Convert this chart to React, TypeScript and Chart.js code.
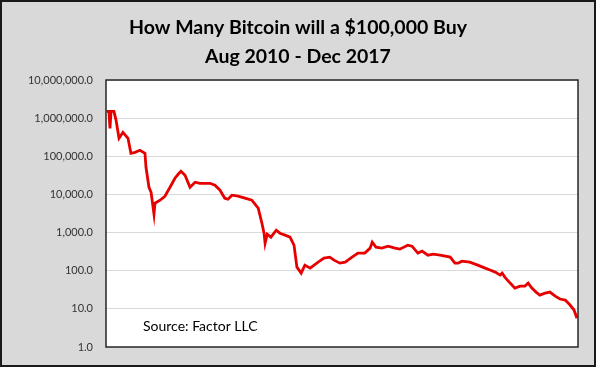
import React, { useEffect, useRef } from "react";
import { Chart, registerables } from "chart.js";
Chart.register(...registerables);

// months elapsed since Aug 2010
const monthsSinceAug2010 = [
  0.1, 0.55, 0.75, 0.95, 1.5, 1.9, 2.45, 3.2, 4.15, 4.7,
  5.47, 6.4, 7.35, 7.54, 8.1, 8.5, 9.05, 9.24, 10.2, 11.1,
  12.07, 13.0, 13.6, 14.14, 14.9, 15.84, 16.8, 17.7, 19.6, 20.55,
  21.5, 22.4, 23.0, 23.76, 24.9, 26.2, 27.5, 28.7, 29.4, 29.8,
  30.0, 30.4, 31.1, 32.1, 32.8, 33.75, 34.7, 35.45, 36.0, 36.8,
  37.5, 38.5, 40.0, 41.1, 42.2, 43.0, 44.1, 45.1, 46.4, 47.5,
  48.8, 49.8, 50.2, 50.9, 52.0, 53.2, 54.5, 55.4, 56.9, 57.7,
  58.8, 59.6, 60.7, 61.7, 63.0, 64.9, 65.8, 66.4, 67.1, 68.6,
  70.1, 71.5, 72.4, 73.4, 74.3, 74.7, 75.2, 76.2, 77.1, 78.1,
  79.0, 79.6, 80.3, 81.1, 81.8, 82.8, 83.7, 84.7, 85.6, 86.6,
  87.5, 88.25, 88.8,
];

// bitcoin that $100,000 buys
const bitcoinPer100k = [
  1507000, 1507000, 541000, 1507000, 1507000, 875000, 296000, 425000, 296000, 120000,
  127000, 144000, 120000, 51500, 15400, 11400, 3030, 5890, 7050, 8970,
  15400, 26600, 33800, 40500, 31800, 15400, 20900, 19600, 19600, 17400,
  12900, 7960, 7490, 9530, 8970, 7960, 7050, 4350, 1760, 964,
  528, 908, 758, 1156, 964, 855, 758, 468, 124, 86.5,
  140, 117, 168, 214, 227, 189, 158, 168, 227, 289,
  289, 391, 561, 415, 391, 441, 391, 368, 468, 441,
  289, 326, 256, 272, 256, 227, 158, 158, 178, 168,
  140, 117, 104, 91.9, 76.7, 86.5, 68.0, 47.4, 35.0, 39.5,
  39.5, 47.4, 35.0, 27.5, 23.0, 25.9, 27.5, 21.6, 18.1, 17.0,
  12.6, 9.3, 5.7,
];

const decadeTicks = [1, 10, 100, 1000, 10000, 100000, 1000000, 10000000];
const titleLines = ["How Many Bitcoin will a $100,000 Buy", "Aug 2010 - Dec 2017"];
const sourceNote = "Source: Factor LLC";

const framePlugin = {
  id: "frame",
  beforeDraw(chart: any) {
    const { ctx, width, height, chartArea } = chart;
    ctx.save();
    ctx.fillStyle = "#ffffff";
    ctx.fillRect(0, 0, width, height);
    ctx.fillStyle = "#d9d9d9";
    ctx.fillRect(1, 1, 594, 365);
    ctx.strokeStyle = "#1a1a1a";
    ctx.lineWidth = 2;
    ctx.strokeRect(1, 1, 594, 365);
    ctx.fillStyle = "#ffffff";
    ctx.fillRect(chartArea.left, chartArea.top, chartArea.right - chartArea.left, chartArea.bottom - chartArea.top);
    ctx.restore();
  },
  afterDraw(chart: any) {
    const { ctx, chartArea } = chart;
    ctx.save();
    ctx.strokeStyle = "#262626";
    ctx.lineWidth = 1.5;
    ctx.strokeRect(chartArea.left, chartArea.top, chartArea.right - chartArea.left, chartArea.bottom - chartArea.top);
    ctx.fillStyle = "#000000";
    ctx.textAlign = "center";
    ctx.textBaseline = "middle";
    ctx.font = "bold 19.5px Lato";
    ctx.fillText(titleLines[0], 298, 28);
    ctx.fillText(titleLines[1], 298, 57);
    ctx.textAlign = "left";
    ctx.font = "14px Lato";
    ctx.fillText(sourceNote, 143, 326);
    ctx.restore();
  },
};

export default function App() {
  const ref = useRef<HTMLCanvasElement>(null);
  useEffect(() => {
    const chart = new Chart(ref.current!, {
      type: "line",
      data: {
        datasets: [
          {
            data: monthsSinceAug2010.map((m, i) => ({ x: m, y: bitcoinPer100k[i] })),
            borderColor: "#e60000",
            borderWidth: 2.8,
            pointRadius: 0,
            tension: 0,
          },
        ],
      },
      options: {
        animation: false,
        responsive: false,
        devicePixelRatio: 1,
        layout: { padding: { left: 6, top: 80, right: 19, bottom: 22 } },
        plugins: { legend: { display: false }, tooltip: { enabled: false } },
        scales: {
          x: { type: "linear", min: 0, max: 89, display: false },
          y: {
            type: "logarithmic",
            min: 1,
            max: 10000000,
            afterBuildTicks: (s: any) => {
              s.ticks = decadeTicks.map((v) => ({ value: v }));
            },
            afterFit: (s: any) => {
              s.width = 100;
            },
            ticks: {
              padding: 13,
              color: "#333333",
              font: { family: "Lato", size: 11 },
              callback: (v: any) =>
                Number(v).toLocaleString("en-US", { minimumFractionDigits: 1, maximumFractionDigits: 1 }),
            },
            grid: { color: "#d9d9d9", drawTicks: false },
            border: { display: false },
          },
        },
      },
      plugins: [framePlugin],
    });
    return () => chart.destroy();
  }, []);
  return (
    <div style={{ position: "absolute", left: 0, top: 0 }}>
      <canvas ref={ref} width={597} height={369} style={{ width: 597, height: 369, display: "block" }} />
    </div>
  );
}
